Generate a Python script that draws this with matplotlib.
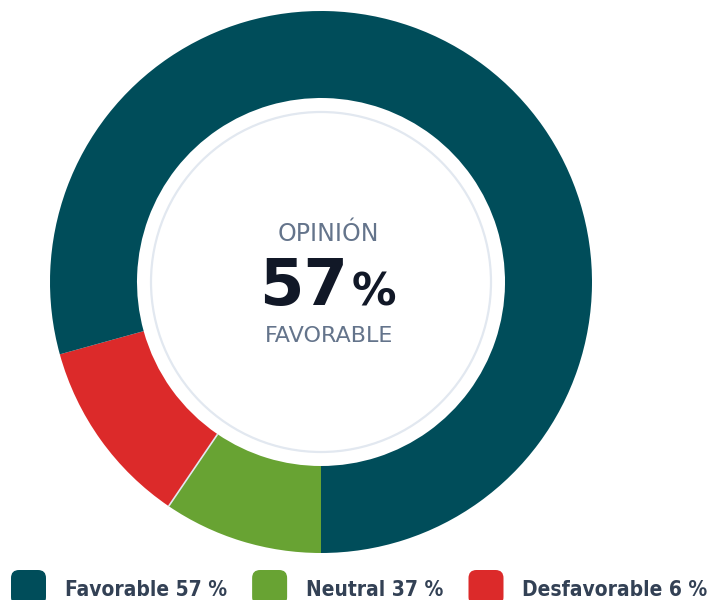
import numpy as np
import matplotlib.pyplot as plt
from matplotlib.patches import Circle, FancyBboxPatch

# legend entries
labels = ['Favorable', 'Neutral', 'Desfavorable']
legend_pct = [57, 37, 6]
colors = ['#004d5a', '#68a333', '#dc2a2a']
# share of the ring each slice covers in the picture
arc_share = [79.3, 9.5, 11.2]

center_top = 'OPINIÓN'
center_value = 57
center_bottom = 'FAVORABLE'

W, H = 718, 600
fig = plt.figure(figsize=(W / 100, H / 100), dpi=100)

# ring: centre (321, 282) px, radius 271 px
cx, cy, r = 321, 282, 271
inner = (r - 87) / r
ax = fig.add_axes([(cx - r) / W, (H - cy - r) / H, 2 * r / W, 2 * r / H])
order = [1, 2, 0]  # neutral, desfavorable, favorable going clockwise from the bottom
ax.pie([arc_share[i] for i in order], colors=[colors[i] for i in order],
       startangle=-90, counterclock=False, radius=1,
       wedgeprops=dict(width=1 - inner, linewidth=0))
# thin light seam between neutral and desfavorable
a = np.deg2rad(-90 - arc_share[1] * 3.6)
ax.plot([inner * np.cos(a), np.cos(a)], [inner * np.sin(a), np.sin(a)],
        color='#e2e8f0', lw=1.2, solid_capstyle='butt')
ax.add_patch(Circle((0, 0), 170 / r, facecolor='white', edgecolor='#e2e8f0', linewidth=1.6))
ax.set_xlim(-1, 1)
ax.set_ylim(-1, 1)
ax.axis('off')

# overlay in pixel coordinates for text and legend
ov = fig.add_axes([0, 0, 1, 1])
ov.set_xlim(0, W)
ov.set_ylim(H, 0)
ov.axis('off')

ov.text(328, 241, center_top, ha='center', va='baseline', fontsize=17, color='#64748b')
ov.text(348, 305, str(center_value), ha='right', va='baseline', fontsize=46,
        fontweight='bold', color='#111827')
ov.text(352, 305, '%', ha='left', va='baseline', fontsize=32, fontweight='bold', color='#111827')
ov.text(329.5, 342, center_bottom, ha='center', va='baseline', fontsize=16, color='#64748b')

# legend, laid out left to right
fig.canvas.draw()
renderer = fig.canvas.get_renderer()
x = 11
for lab, pct, col in zip(labels, legend_pct, colors):
    ov.add_patch(FancyBboxPatch((x, 570), 35, 35, boxstyle='round,pad=0,rounding_size=8',
                                facecolor=col, edgecolor='none'))
    t = ov.text(x + 54, 596, '%s %d %%' % (lab, pct), ha='left', va='baseline',
                fontsize=15, fontweight='bold', fontstretch='condensed',
                family=['DejaVu Sans Condensed', 'DejaVu Sans'], color='#334155')
    w = t.get_window_extent(renderer).width
    x = x + 54 + w + 25

fig.savefig('out.png', dpi=100)
